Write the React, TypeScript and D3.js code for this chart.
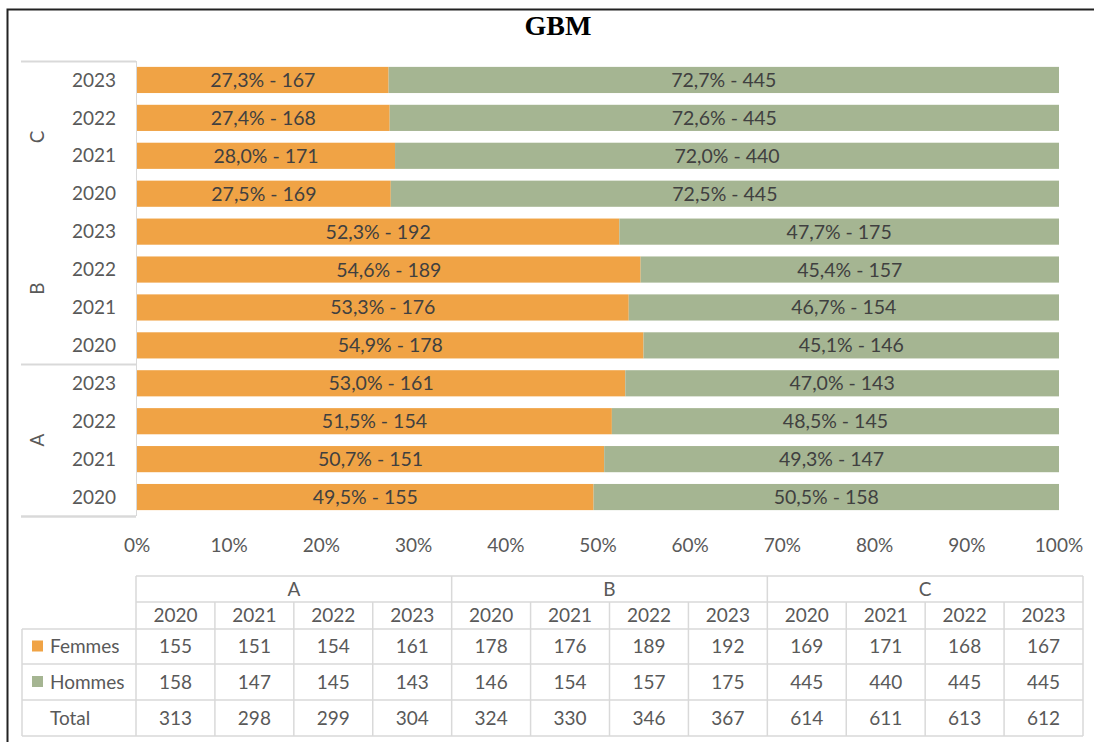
import React, { useEffect, useRef } from "react";
import * as d3 from "d3";

const groups = ["A", "B", "C"];
const years = ["2020", "2021", "2022", "2023"];
// counts per group, in year order
const femmes = {
  A: [155, 151, 154, 161],
  B: [178, 176, 189, 192],
  C: [169, 171, 168, 167],
};
const hommes = {
  A: [158, 147, 145, 143],
  B: [146, 154, 157, 175],
  C: [445, 440, 445, 445],
};
const xTicks = [0, 0.1, 0.2, 0.3, 0.4, 0.5, 0.6, 0.7, 0.8, 0.9, 1];

const ORANGE = "#F0A345";
const GREEN = "#A5B592";
const TEXT = "#404040";
const AXIS_TEXT = "#595959";
const GRID = "#D9D9D9";
const FONT = "Lato, 'Open Sans', sans-serif";
const FS = 19;

const W = 1094;
const H = 742;

export default function App() {
  const svgRef = useRef<SVGSVGElement>(null);

  useEffect(() => {
    const svg = d3.select(svgRef.current);
    svg.selectAll("*").remove();

    const rows = [];
    [...groups].reverse().forEach((g) => {
      [...years].reverse().forEach((y) => {
        const i = years.indexOf(y);
        const f = femmes[g][i];
        const h = hommes[g][i];
        rows.push({ key: g + y, group: g, year: y, f, h, total: f + h });
      });
    });

    const x = d3.scaleLinear().domain([0, 1]).range([137, 1059]);
    const y = d3
      .scaleBand()
      .domain(rows.map((d) => d.key))
      .range([61, 516])
      .paddingInner(0.31)
      .paddingOuter(0.155);

    const fmt = (v) => d3.format(".1f")(v * 100).replace(".", ",") + "%";

    // frame
    svg
      .append("path")
      .attr("d", `M7.5,${H} L7.5,9.5 L${W},9.5`)
      .attr("fill", "none")
      .attr("stroke", "#222")
      .attr("stroke-width", 2);

    // title
    svg
      .append("text")
      .attr("x", 558)
      .attr("y", 35)
      .attr("text-anchor", "middle")
      .attr("font-family", "'Liberation Serif', 'Times New Roman', serif")
      .attr("font-weight", "bold")
      .attr("font-size", 28)
      .attr("fill", "#000")
      .text("GBM");

    // category axis box
    const axisG = svg.append("g");
    axisG
      .append("line")
      .attr("x1", 136.5)
      .attr("x2", 136.5)
      .attr("y1", 61)
      .attr("y2", 516)
      .attr("stroke", GRID);
    const half = (y.step() * y.paddingInner()) / 2;
    const sep = [61, y("B2020") + y.bandwidth() + half, y("A2020") + y.bandwidth() + half, 516];
    sep.forEach((s) => {
      axisG
        .append("line")
        .attr("x1", 21)
        .attr("x2", 136)
        .attr("y1", Math.round(s) + 0.5)
        .attr("y2", Math.round(s) + 0.5)
        .attr("stroke", GRID)
        .attr("stroke-width", 2);
    });

    // year labels + ticks
    rows.forEach((d) => {
      const cy = y(d.key) + y.bandwidth() / 2;
      axisG
        .append("text")
        .attr("x", 116)
        .attr("y", cy)
        .attr("dy", "0.35em")
        .attr("text-anchor", "end")
        .attr("font-family", FONT)
        .attr("font-size", FS)
        .attr("fill", AXIS_TEXT)
        .text(d.year);
      axisG
        .append("line")
        .attr("x1", 136)
        .attr("x2", 141)
        .attr("y1", Math.round(cy) + 0.5)
        .attr("y2", Math.round(cy) + 0.5)
        .attr("stroke", GRID);
    });

    // group labels
    groups.forEach((g) => {
      const top = y(g + "2023");
      const bot = y(g + "2020") + y.bandwidth();
      const cy = (top + bot) / 2;
      axisG
        .append("text")
        .attr("transform", `translate(37,${cy}) rotate(-90)`)
        .attr("dy", "0.35em")
        .attr("text-anchor", "middle")
        .attr("font-family", FONT)
        .attr("font-size", FS)
        .attr("fill", AXIS_TEXT)
        .text(g);
    });

    // bars
    const barG = svg.append("g");
    rows.forEach((d) => {
      const pf = d.f / d.total;
      const ph = d.h / d.total;
      const yy = y(d.key);
      barG
        .append("rect")
        .attr("x", x(0))
        .attr("y", yy)
        .attr("width", x(pf) - x(0))
        .attr("height", y.bandwidth())
        .attr("fill", ORANGE);
      barG
        .append("rect")
        .attr("x", x(pf))
        .attr("y", yy)
        .attr("width", x(1) - x(pf))
        .attr("height", y.bandwidth())
        .attr("fill", GREEN);
      const cy = yy + y.bandwidth() / 2;
      barG
        .append("text")
        .attr("x", (x(0) + x(pf)) / 2)
        .attr("y", cy)
        .attr("dy", "0.36em")
        .attr("text-anchor", "middle")
        .attr("font-family", FONT)
        .attr("font-size", 19.5)
        .attr("fill", TEXT)
        .text(`${fmt(pf)} - ${d.f}`);
      barG
        .append("text")
        .attr("x", (x(pf) + x(1)) / 2)
        .attr("y", cy)
        .attr("dy", "0.36em")
        .attr("text-anchor", "middle")
        .attr("font-family", FONT)
        .attr("font-size", 19.5)
        .attr("fill", TEXT)
        .text(`${fmt(ph)} - ${d.h}`);
    });

    // x axis labels
    svg
      .append("g")
      .selectAll("text")
      .data(xTicks)
      .join("text")
      .attr("x", (d) => x(d))
      .attr("y", 545)
      .attr("dy", "0.35em")
      .attr("text-anchor", "middle")
      .attr("font-family", FONT)
      .attr("font-size", FS)
      .attr("fill", AXIS_TEXT)
      .text((d) => Math.round(d * 100) + "%");

    // data table
    const cols = [];
    groups.forEach((g) => years.forEach((yr, i) => cols.push({ group: g, year: yr, i })));
    const tx = d3
      .scaleBand()
      .domain(cols.map((c) => c.group + c.year))
      .range([136, 1083]);
    const rowY = [576, 602, 629, 664, 700, 736];
    const tbl = svg.append("g");
    const line = (x1, y1, x2, y2) =>
      tbl
        .append("line")
        .attr("x1", x1)
        .attr("y1", y1)
        .attr("x2", x2)
        .attr("y2", y2)
        .attr("stroke", GRID)
        .attr("stroke-width", 1.5);
    // horizontal lines
    line(136, rowY[0], 1083, rowY[0]);
    line(136, rowY[1], 1083, rowY[1]);
    for (let r = 2; r < rowY.length; r++) line(22, rowY[r], 1083, rowY[r]);
    // vertical lines
    line(22, rowY[2], 22, rowY[5]);
    line(136, rowY[0], 136, rowY[5]);
    cols.forEach((c, k) => {
      const xr = tx(c.group + c.year) + tx.bandwidth();
      const top = (k + 1) % 4 === 0 ? rowY[0] : rowY[1];
      line(xr, top, xr, rowY[5]);
    });

    const cellText = (cx, cy, t, anchor = "middle") =>
      tbl
        .append("text")
        .attr("x", cx)
        .attr("y", cy)
        .attr("dy", "0.35em")
        .attr("text-anchor", anchor)
        .attr("font-family", FONT)
        .attr("font-size", FS)
        .attr("fill", AXIS_TEXT)
        .text(t);

    groups.forEach((g) => {
      const x0 = tx(g + "2020");
      const x1 = tx(g + "2023") + tx.bandwidth();
      cellText((x0 + x1) / 2, (rowY[0] + rowY[1]) / 2, g);
    });
    cols.forEach((c) => {
      const cx = tx(c.group + c.year) + tx.bandwidth() / 2;
      const f = femmes[c.group][c.i];
      const h = hommes[c.group][c.i];
      cellText(cx, (rowY[1] + rowY[2]) / 2, c.year);
      cellText(cx, (rowY[2] + rowY[3]) / 2, String(f));
      cellText(cx, (rowY[3] + rowY[4]) / 2, String(h));
      cellText(cx, (rowY[4] + rowY[5]) / 2, String(f + h));
    });

    // row headers with legend keys
    const legend = [
      { label: "Femmes", color: ORANGE },
      { label: "Hommes", color: GREEN },
    ];
    legend.forEach((l, i) => {
      const cy = (rowY[2 + i] + rowY[3 + i]) / 2;
      tbl
        .append("rect")
        .attr("x", 32)
        .attr("y", cy - 6)
        .attr("width", 11)
        .attr("height", 11)
        .attr("fill", l.color);
      cellText(50, cy, l.label, "start");
    });
    cellText(50, (rowY[4] + rowY[5]) / 2, "Total", "start");
  }, []);

  return (
    <div style={{ position: "absolute", left: 0, top: 0, width: W, height: H, background: "#fff" }}>
      <svg ref={svgRef} width={W} height={H} viewBox={`0 0 ${W} ${H}`} />
    </div>
  );
}
